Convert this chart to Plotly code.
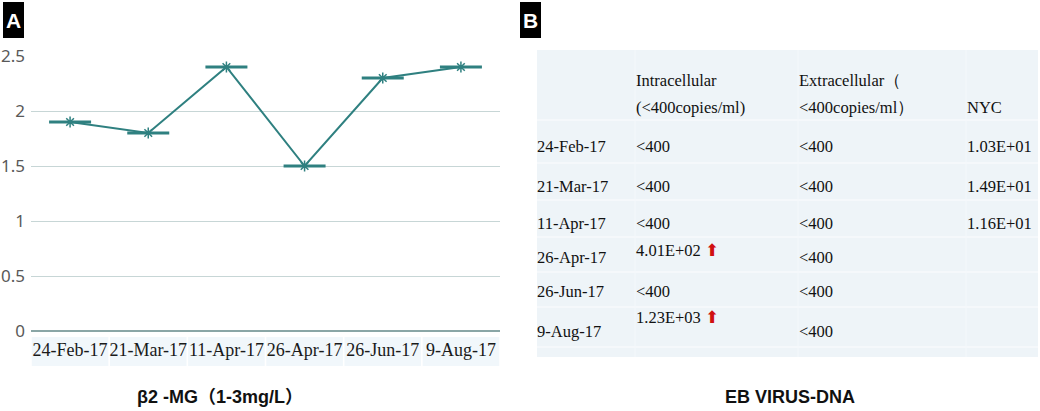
import plotly.graph_objects as go

# ---- data ----
dates = ["24-Feb-17", "21-Mar-17", "11-Apr-17", "26-Apr-17", "26-Jun-17", "9-Aug-17"]
b2mg = [1.9, 1.8, 2.4, 1.5, 2.3, 2.4]

table_header = ["", "Intracellular<br>(<400copies/ml)", "Extracellular（<br><400copies/ml）", "NYC"]
intracellular = ["<400", "<400", "<400", "4.01E+02", "<400", "1.23E+03"]
intra_elevated = [False, False, False, True, False, True]
extracellular = ["<400", "<400", "<400", "<400", "<400", "<400"]
nyc = ["1.03E+01", "1.49E+01", "1.16E+01", "", "", ""]

W, H = 1040, 411
TEAL = "#2F8080"
SERIF = "Liberation Serif, Times New Roman, serif"
SANS = "Liberation Sans, Arial, Noto Sans CJK SC, sans-serif"

fig = go.Figure()

# ---- panel A : line chart ----
fig.add_trace(go.Scatter(x=dates, y=b2mg, mode="lines+markers",
                         line=dict(color=TEAL, width=2),
                         marker=dict(symbol="line-ew", size=30,
                                     line=dict(color=TEAL, width=3)),
                         xaxis="x", yaxis="y", showlegend=False))
fig.add_trace(go.Scatter(x=dates, y=b2mg, mode="markers",
                         marker=dict(symbol="asterisk", size=9,
                                     line=dict(color=TEAL, width=1.5)),
                         xaxis="x", yaxis="y", showlegend=False))

# light boxes behind the date labels
shapes = []
for i in range(len(dates)):
    shapes.append(dict(type="rect", xref="x", yref="paper",
                       x0=i - 0.49, x1=i + 0.49,
                       y0=(H - 366) / H, y1=(H - 337) / H,
                       fillcolor="#F1F7FB", line=dict(width=0), layer="below"))

# ---- panel B : table drawn on its own axes (units ~ pixels) ----
TW, TH = 501, 307
col_edges = [0, 98, 261, 429, TW]
row_edges = [0, 70, 113, 150, 187, 222, 257, 297, TH]
header_lines_y = [32, 59]
row_text_y = [98, 138, 175, 209, 243, 283]
elevated_shift = [0, 0, 0, -7, 0, -14]

shapes.append(dict(type="rect", xref="x2", yref="y2", x0=0, x1=TW, y0=0, y1=TH,
                   fillcolor="#EEF4F8", line=dict(width=0), layer="below"))
for yv in row_edges[1:-1]:
    shapes.append(dict(type="line", xref="x2", yref="y2", x0=0, x1=TW, y0=yv, y1=yv,
                       line=dict(color="#F7FAFC", width=1.5), layer="below"))
for xv in col_edges[1:-1]:
    shapes.append(dict(type="line", xref="x2", yref="y2", x0=xv, x1=xv, y0=0, y1=TH,
                       line=dict(color="#F4F8FB", width=1), layer="below"))

tx, ty, tt = [], [], []
for c, head in enumerate(table_header):
    lines = head.split("<br>") if head else []
    if len(lines) == 1:
        lines = ["", lines[0]]
    for k, ln in enumerate(lines):
        if ln:
            tx.append(col_edges[c] + 1)
            ty.append(header_lines_y[k])
            tt.append(ln)

arrow = " <span style='color:#D01010'>⬆</span>"
for r, d in enumerate(dates):
    yv = row_text_y[r]
    tx.append(col_edges[0]); ty.append(yv); tt.append(d)
    if intra_elevated[r]:
        tx.append(col_edges[1] + 1); ty.append(yv + elevated_shift[r])
        tt.append(intracellular[r] + arrow)
    else:
        tx.append(col_edges[1] + 1); ty.append(yv); tt.append(intracellular[r])
    tx.append(col_edges[2] + 1); ty.append(yv); tt.append(extracellular[r])
    if nyc[r]:
        tx.append(col_edges[3] + 1); ty.append(yv); tt.append(nyc[r])

fig.add_trace(go.Scatter(x=tx, y=ty, text=tt, mode="text", textposition="middle right",
                         textfont=dict(family=SERIF, size=16.5, color="#111111"),
                         xaxis="x2", yaxis="y2", showlegend=False, hoverinfo="skip",
                         cliponaxis=False))

# ---- panel labels and titles ----
annotations = []
for lbl, x0 in [("A", 3), ("B", 520)]:
    shapes.append(dict(type="rect", xref="paper", yref="paper",
                       x0=x0 / W, x1=(x0 + 21) / W, y0=(H - 38) / H, y1=(H - 2) / H,
                       fillcolor="black", line=dict(width=0)))
    annotations.append(dict(text="<b>%s</b>" % lbl, xref="paper", yref="paper",
                            x=(x0 + 10.5) / W, y=(H - 20) / H, showarrow=False,
                            xanchor="center", yanchor="middle",
                            font=dict(family=SANS, size=21, color="white")))

annotations.append(dict(text="<b>β2 -MG（1-3mg/L）</b>", xref="paper", yref="paper",
                        x=220 / W, y=(H - 397) / H, showarrow=False,
                        xanchor="center", yanchor="middle",
                        font=dict(family=SANS, size=18, color="#111111")))
annotations.append(dict(text="<b>EB VIRUS-DNA</b>", xref="paper", yref="paper",
                        x=790 / W, y=(H - 397) / H, showarrow=False,
                        xanchor="center", yanchor="middle",
                        font=dict(family=SANS, size=18, color="#111111")))

fig.update_layout(
    width=W, height=H,
    margin=dict(l=0, r=0, t=0, b=0),
    paper_bgcolor="white", plot_bgcolor="white",
    shapes=shapes, annotations=annotations,
    xaxis=dict(domain=[31 / W, 500 / W], range=[-0.5, 5.5], type="category",
               showgrid=False, zeroline=False, showline=False, ticks="",
               tickangle=0, ticklabelstandoff=6, automargin=False,
               tickfont=dict(family=SERIF, size=18, color="#1a1a1a"),
               anchor="y"),
    yaxis=dict(domain=[(H - 331) / H, (H - 56) / H], range=[0, 2.5],
               tickvals=[0, 0.5, 1, 1.5, 2, 2.5], ticktext=["0", "0.5", "1", "1.5", "2", "2.5"],
               showgrid=True, gridcolor="#C7D6D6", gridwidth=1,
               zeroline=True, zerolinecolor="#8AA6A6", zerolinewidth=2,
               showline=False, ticks="", ticklabelstandoff=5, automargin=False,
               tickfont=dict(family="Noto Sans, sans-serif", size=17, color="#595959"),
               anchor="x"),
    xaxis2=dict(domain=[537 / W, 1038 / W], range=[0, TW], visible=False, anchor="y2",
                automargin=False),
    yaxis2=dict(domain=[(H - 357) / H, (H - 50) / H], range=[TH, 0], visible=False, anchor="x2",
                automargin=False),
)

# page body has an 8px default margin; drop it so the 1040x411 figure fills the window
fig.write_html("out.html", config={"displayModeBar": False},
               post_script="document.body.style.margin='0';document.body.style.overflow='hidden';")
